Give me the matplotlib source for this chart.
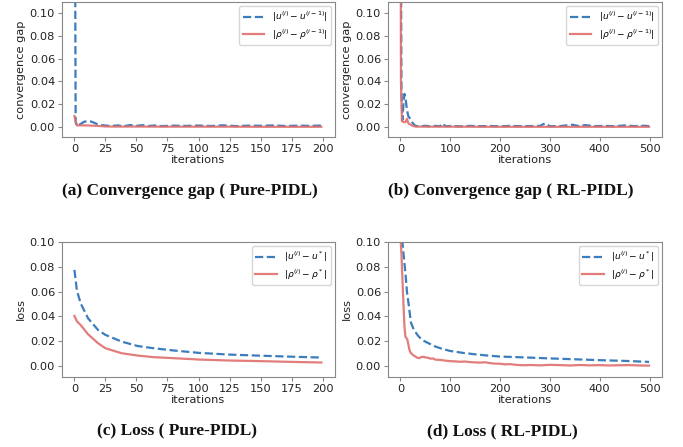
import matplotlib
matplotlib.use("Agg")
import matplotlib.pyplot as plt
from matplotlib.ticker import MultipleLocator

# ---- data ----
# (a) convergence gap, Pure-PIDL
a_u_x = [0, 1, 2, 5, 8, 11, 13, 15, 18, 22, 26, 30, 35, 40, 45, 50, 55, 60, 65, 70,
         80, 90, 100, 110, 120, 130, 140, 150, 160, 170, 180, 190, 199]
a_u_y = [0.35, 0.004, 0.0008, 0.0025, 0.0045, 0.005, 0.0047, 0.004, 0.0025, 0.0015,
         0.001, 0.0008, 0.0012, 0.0006, 0.0015, 0.0009, 0.0014, 0.0007, 0.0012, 0.0006,
         0.001, 0.0008, 0.0011, 0.0007, 0.0013, 0.0006, 0.001, 0.0009, 0.0012, 0.0007,
         0.001, 0.0008, 0.0011]
a_r_x = [0, 2, 5, 10, 15, 20, 25, 30, 50, 75, 100, 125, 150, 175, 199]
a_r_y = [0.0095, 0.0012, 0.0013, 0.0012, 0.001, 0.0007, 0.0003, 0.0002, 0.0002,
         0.0001, 0.0001, 0.0001, 0.0, 0.0, 0.0]

# (b) convergence gap, RL-PIDL
b_u_x = [0, 2, 4, 6, 8, 10, 13, 16, 20, 25, 30, 40, 50, 60, 70, 80, 85, 90, 100, 120,
         140, 160, 180, 200, 220, 240, 260, 280, 290, 300, 320, 345, 360, 370, 390,
         410, 430, 450, 470, 490, 499]
b_u_y = [0.3, 0.03, 0.006, 0.02, 0.029, 0.026, 0.015, 0.009, 0.007, 0.003, 0.0008,
         0.0005, 0.0009, 0.0004, 0.0008, 0.0006, 0.003, 0.0005, 0.0007, 0.0004,
         0.0008, 0.0005, 0.0007, 0.0004, 0.0008, 0.0005, 0.0006, 0.0008, 0.003,
         0.0005, 0.0006, 0.0018, 0.0005, 0.0015, 0.0006, 0.0008, 0.0005, 0.0012,
         0.0006, 0.0009, 0.0006]
b_r_x = [0, 1, 3, 6, 10, 13, 16, 20, 25, 30, 50, 100, 200, 300, 400, 499]
b_r_y = [0.3, 0.04, 0.005, 0.0042, 0.004, 0.007, 0.003, 0.002, 0.0008, 0.0002,
         0.0001, 0.0001, 0.0, 0.0, 0.0, 0.0]

# (c) loss, Pure-PIDL
c_x = [0, 2, 5, 11, 19, 25, 38, 51, 64, 80, 95, 100, 125, 150, 175, 199]
c_u_y = [0.0775, 0.061, 0.0505, 0.0384, 0.029, 0.025, 0.0196, 0.016, 0.0142, 0.0124,
         0.011, 0.0105, 0.0091, 0.0082, 0.0074, 0.0067]
c_r_y = [0.0403, 0.036, 0.033, 0.0255, 0.0183, 0.0142, 0.0102, 0.0083, 0.007, 0.0062,
         0.0054, 0.0051, 0.0043, 0.0038, 0.0032, 0.0027]

# (d) loss, RL-PIDL
d_u_x = [0, 3, 5, 8, 10, 13, 17, 21, 27, 35, 43, 55, 70, 85, 100, 125, 150, 175, 200,
         250, 300, 350, 400, 450, 499]
d_u_y = [0.14, 0.105, 0.095, 0.083, 0.075, 0.06, 0.048, 0.035, 0.029, 0.0245, 0.021,
         0.0185, 0.0156, 0.0136, 0.012, 0.0105, 0.0093, 0.0083, 0.0075, 0.0068,
         0.006, 0.0053, 0.0046, 0.004, 0.0032]
d_r_x = [0, 2, 4, 6, 8, 10, 12, 14, 16, 18, 20, 23, 26, 30, 34, 38, 42, 46, 50, 55,
         60, 65, 70, 80, 90, 100, 110, 120, 130, 140, 150, 160, 170, 180, 190, 200,
         210, 220, 230, 240, 250, 260, 280, 300, 320, 340, 360, 380, 400, 420, 440,
         460, 480, 499]
d_r_y = [0.105, 0.09, 0.07, 0.05, 0.032, 0.0235, 0.0225, 0.021, 0.017, 0.013, 0.011,
         0.0095, 0.0085, 0.0075, 0.0065, 0.0062, 0.0072, 0.0073, 0.0068, 0.0066,
         0.0058, 0.006, 0.005, 0.0048, 0.0042, 0.0038, 0.0036, 0.0033, 0.0035, 0.003,
         0.0028, 0.0026, 0.0029, 0.0022, 0.0018, 0.0017, 0.0012, 0.0014, 0.0009,
         0.0006, 0.0005, 0.0007, 0.0004, 0.0008, 0.0006, 0.0003, 0.0007, 0.0004,
         0.0006, 0.0003, 0.0005, 0.0006, 0.0003, 0.0002]

gap_labels = [r'$|u^{(i)} - u^{(i-1)}|$', r'$|\rho^{(i)} - \rho^{(i-1)}|$']
loss_labels = [r'$|u^{(i)} - u^*|$', r'$|\rho^{(i)} - \rho^*|$']
captions = ['(a) Convergence gap ( Pure-PIDL)', '(b) Convergence gap ( RL-PIDL)',
            '(c) Loss ( Pure-PIDL)', '(d) Loss ( RL-PIDL)']

BLUE = '#3c7dbd'
RED = '#df6f6d'

plt.rcParams['font.size'] = 8.2
plt.rcParams['axes.edgecolor'] = '#888888'
plt.rcParams['xtick.color'] = '#888888'
plt.rcParams['ytick.color'] = '#888888'
plt.rcParams['xtick.labelcolor'] = '#222222'
plt.rcParams['ytick.labelcolor'] = '#222222'
plt.rcParams['axes.labelcolor'] = '#222222'

fig = plt.figure(figsize=(6.83, 4.47), dpi=100)

W, H = 683.0, 447.0
boxes = [(62, 2, 335, 137), (388, 2, 662, 137), (62, 242, 335, 377), (388, 242, 662, 377)]
axes = [fig.add_axes([l / W, 1 - b / H, (r - l) / W, (b - t) / H]) for l, t, r, b in boxes]

series = [
    (a_u_x, a_u_y, a_r_x, a_r_y, gap_labels, 'convergence gap', (-0.009, 0.11), 200),
    (b_u_x, b_u_y, b_r_x, b_r_y, gap_labels, 'convergence gap', (-0.009, 0.11), 500),
    (c_x, c_u_y, c_x, c_r_y, loss_labels, 'loss', (-0.009, 0.1), 200),
    (d_u_x, d_u_y, d_r_x, d_r_y, loss_labels, 'loss', (-0.009, 0.1), 500),
]

for ax, (ux, uy, rx, ry, labels, ylab, ylim, n) in zip(axes, series):
    ax.plot(ux, uy, '--', color=BLUE, lw=1.6, label=labels[0])
    ax.plot(rx, ry, '-', color=RED, lw=1.6, alpha=0.9, label=labels[1])
    ax.set_xlim(-0.05 * n, 1.05 * n)
    ax.set_ylim(*ylim)
    ax.xaxis.set_major_locator(MultipleLocator(25 if n == 200 else 100))
    ax.yaxis.set_major_locator(MultipleLocator(0.02))
    ax.set_xlabel('iterations', labelpad=1)
    ax.set_ylabel(ylab, labelpad=3)
    ax.tick_params(length=3, width=0.8, pad=2)
    for sp in ax.spines.values():
        sp.set_linewidth(0.8)
    ax.legend(loc='upper right', fontsize=6.5, frameon=True, edgecolor='#cccccc',
              fancybox=True, handlelength=2.4, labelspacing=0.35, borderaxespad=0.45)

cap_pos = [(190, 191), (511, 191), (177, 431), (502, 431)]
for (cx, cy), txt in zip(cap_pos, captions):
    fig.text(cx / W, 1 - cy / H, txt, ha='center', va='center',
             family='Liberation Serif', weight='bold', fontsize=12.5, color='#111111')

fig.savefig('out.png', dpi=100)
